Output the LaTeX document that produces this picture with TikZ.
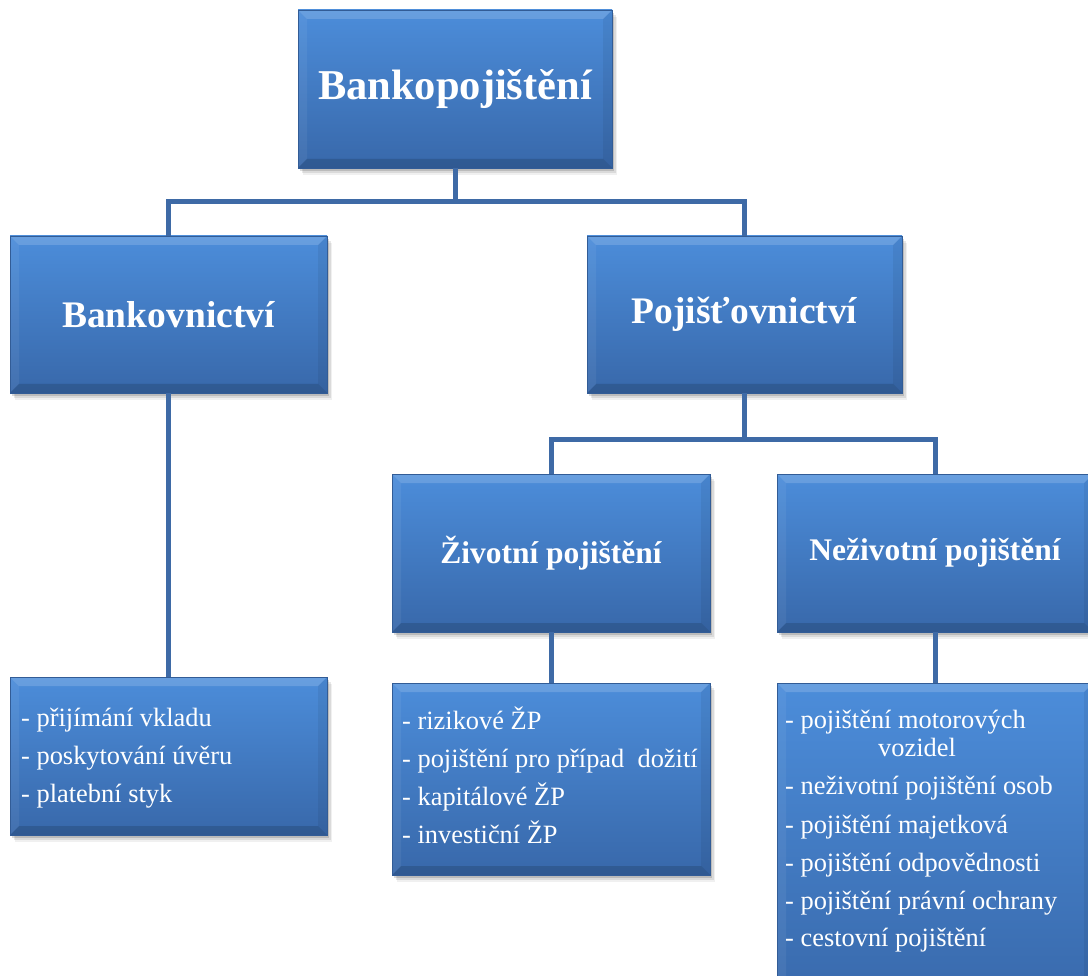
\documentclass[tikz,border=0pt]{standalone}
\usepackage{fontspec}
\setmainfont{Liberation Serif}
\usetikzlibrary{shadows}
\definecolor{boxtop}{RGB}{76,141,218}
\definecolor{boxbot}{RGB}{56,104,170}
\definecolor{boxedge}{RGB}{50,92,150}
\definecolor{linec}{RGB}{62,106,166}
\tikzset{
  box/.style={rectangle, inner sep=0pt, top color=boxtop, bottom color=boxbot,
    draw=boxedge, line width=0.6pt, text=white,
    drop shadow={shadow xshift=5pt, shadow yshift=-7pt, opacity=0.06, fill=black},
    drop shadow={shadow xshift=3.5pt, shadow yshift=-5pt, opacity=0.09, fill=black},
    drop shadow={shadow xshift=2pt, shadow yshift=-3pt, opacity=0.14, fill=black},
    path picture={
      \fill[white,opacity=0.16] (path picture bounding box.north west) -- (path picture bounding box.north east)
        -- ([xshift=-9pt,yshift=-9pt]path picture bounding box.north east) -- ([xshift=9pt,yshift=-9pt]path picture bounding box.north west) -- cycle;
      \fill[black,opacity=0.14] (path picture bounding box.south west) -- (path picture bounding box.south east)
        -- ([xshift=-9pt,yshift=9pt]path picture bounding box.south east) -- ([xshift=9pt,yshift=9pt]path picture bounding box.south west) -- cycle;
      \fill[white,opacity=0.06] (path picture bounding box.north west) -- (path picture bounding box.south west)
        -- ([xshift=9pt,yshift=9pt]path picture bounding box.south west) -- ([xshift=9pt,yshift=-9pt]path picture bounding box.north west) -- cycle;
      \fill[black,opacity=0.06] (path picture bounding box.north east) -- (path picture bounding box.south east)
        -- ([xshift=-9pt,yshift=9pt]path picture bounding box.south east) -- ([xshift=-9pt,yshift=-9pt]path picture bounding box.north east) -- cycle;
    }},
  lvlone/.style={box, font=\fontsize{42.5}{48}\selectfont\bfseries},
  lvltwo/.style={box, font=\fontsize{37.5}{44}\selectfont\bfseries},
  lvlthree/.style={box, font=\fontsize{31.5}{38}\selectfont\bfseries},
  listline/.style={anchor=base west, inner sep=0pt, text=white, font=\fontsize{26.4}{30}\selectfont},
  conn/.style={draw=linec, line width=5pt},
}
\begin{document}
\begin{tikzpicture}[x=1pt,y=-1pt]
\path[use as bounding box] (0,0) rectangle (1088,976);
\clip (0,0) rectangle (1088,976);

\coordinate (j1) at (455,202);
\coordinate (j2) at (744.5,440);

% boxes
\node[lvlone, minimum width=314pt, minimum height=158pt] (top) at (455,89) {Bankopojištění};
\node[lvltwo, minimum width=317pt, minimum height=157pt] (bank) at (168.5,314.5) {Bankovnictví};
\node[lvltwo, minimum width=315pt, minimum height=157pt] (poj) at (744.5,314.5) {Pojišťovnictví};
\node[lvlthree, minimum width=318pt, minimum height=158pt] (ziv) at (551,553) {Životní pojištění};
\node[lvlthree, minimum width=316pt, minimum height=158pt] (nez) at (935,553) {Neživotní pojištění};
\node[box, minimum width=317pt, minimum height=158pt] (bl) at (168.5,756) {};
\node[box, minimum width=318pt, minimum height=192pt] (zl) at (551,779) {};
\node[box, minimum width=316pt, minimum height=330pt] (nl) at (935,848) {};

% connectors
\draw[conn] (top.south) -- (j1) -| (bank.north);
\draw[conn] (j1) -| (poj.north);
\draw[conn] (poj.south) -- (j2) -| (ziv.north);
\draw[conn] (j2) -| (nez.north);
\draw[conn] (bank.south) -- (bl.north);
\draw[conn] (ziv.south) -- (zl.north);
\draw[conn] (nez.south) -- (nl.north);

% list texts
\node[listline] (b1) at (21,726) {- přijímání vkladu};
\node[listline] (b2) at (21,764) {- poskytování úvěru};
\node[listline] (b3) at (21,802) {- platební styk};

\node[listline] (z1) at (402,729) {- rizikové ŽP};
\node[listline] (z2) at (402,767) {- pojištění pro případ\ \ dožití};
\node[listline] (z3) at (402,805) {- kapitálové ŽP};
\node[listline] (z4) at (402,843) {- investiční ŽP};

\node[listline] (n1) at (785,728) {- pojištění motorových};
\node[listline] (n2) at (878,756) {vozidel};
\node[listline] (n3) at (785,794) {- neživotní pojištění osob};
\node[listline] (n4) at (785,833) {- pojištění majetková};
\node[listline] (n5) at (785,871) {- pojištění odpovědnosti};
\node[listline] (n6) at (785,909) {- pojištění právní ochrany};
\node[listline] (n7) at (785,946) {- cestovní pojištění};
\end{tikzpicture}
\end{document}
